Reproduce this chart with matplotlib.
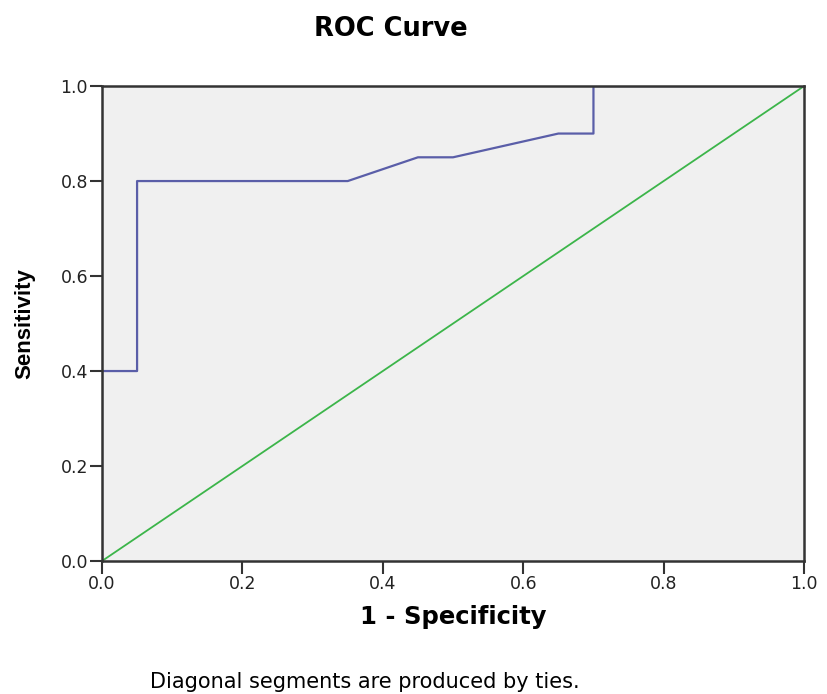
import matplotlib
matplotlib.use("Agg")
import matplotlib.pyplot as plt

plt.rcParams['font.family'] = ['DejaVu Sans']

# ROC curve points (1 - specificity, sensitivity)
fpr = [0.0, 0.0, 0.05, 0.05, 0.35, 0.45, 0.50, 0.65, 0.70, 0.70, 1.0]
tpr = [0.0, 0.4, 0.40, 0.80, 0.80, 0.85, 0.85, 0.90, 0.90, 1.00, 1.0]
ref_line = [0.0, 1.0]
ticks = [0.0, 0.2, 0.4, 0.6, 0.8, 1.0]

fig = plt.figure(figsize=(8.27, 6.94), dpi=100)
ax = fig.add_axes([0.1233, 0.1916, 0.849, 0.6844])
ax.set_facecolor('#f0f0f0')

ax.plot(ref_line, ref_line, color='#3cb54a', lw=1.3, zorder=2)
ax.plot(fpr, tpr, color='#5a5ea8', lw=1.6, zorder=2.2)

ax.set_xlim(0, 1)
ax.set_ylim(0, 1)
ax.set_xticks(ticks)
ax.set_yticks(ticks)
ax.set_xticklabels(['%.1f' % t for t in ticks])
ax.set_yticklabels(['%.1f' % t for t in ticks])
ax.tick_params(direction='out', length=9, width=1.5, pad=1, labelsize=12.5,
               colors='#333333', labelcolor='#222222')
for s in ax.spines.values():
    s.set_linewidth(1.8)
    s.set_color('#333333')
    s.set_zorder(3)

ax.set_xlabel('1 - Specificity', fontsize=17.5, fontweight='bold', labelpad=9)
ax.set_ylabel('Sensitivity', fontsize=16, fontweight='bold', labelpad=18,
              family='Liberation Sans')
fig.text(0.473, 0.958, 'ROC Curve', ha='center', va='center', fontsize=18.5, fontweight='bold')
fig.text(0.441, 0.018, 'Diagonal segments are produced by ties.', ha='center', va='center',
         fontsize=15)

fig.savefig('out.png', dpi=100)
